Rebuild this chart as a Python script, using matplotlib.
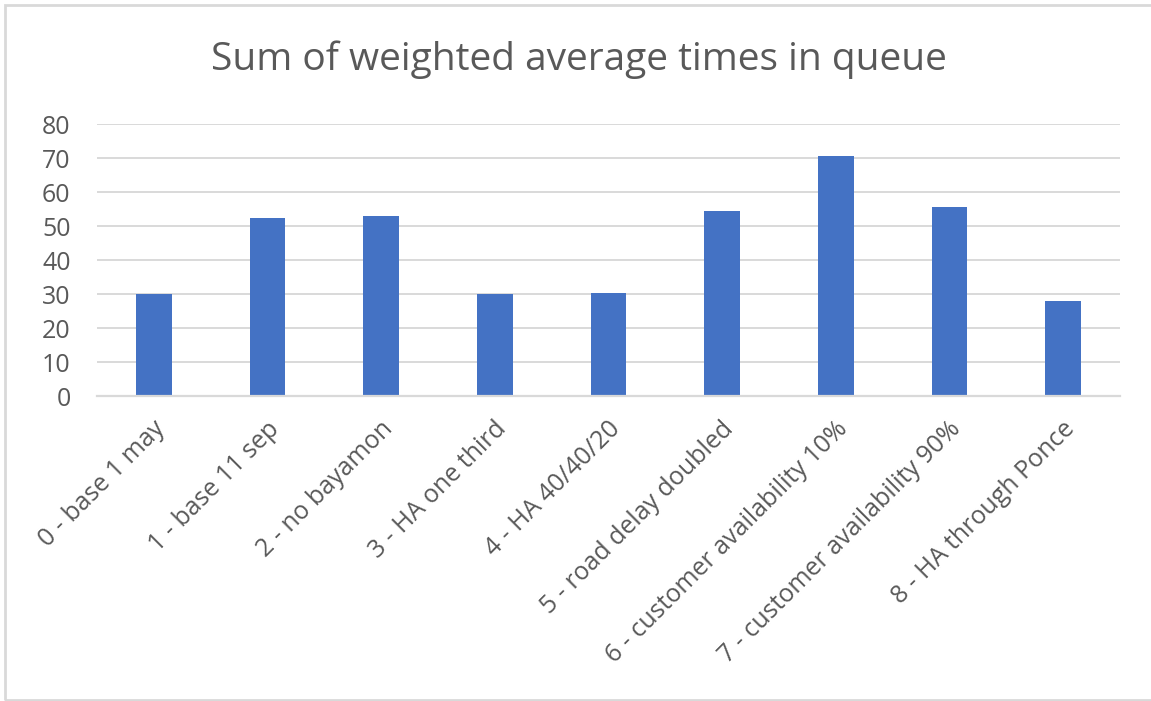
import matplotlib.pyplot as plt
import matplotlib.transforms as mtransforms
from matplotlib.patches import Rectangle

plt.rcParams['font.family'] = ['Open Sans', 'DejaVu Sans']

# scenario names and summed weighted average times in queue
scenarios = [
    '0 - base 1 may',
    '1 - base 11 sep',
    '2 - no bayamon',
    '3 - HA one third',
    '4 - HA 40/40/20',
    '5 - road delay doubled',
    '6 - customer availability 10%',
    '7 - customer availability 90%',
    '8 - HA through Ponce',
]
queue_times = [29.9, 52.4, 52.8, 29.9, 30.3, 54.3, 70.6, 55.6, 28.0]
y_ticks = [0, 10, 20, 30, 40, 50, 60, 70, 80]

text_grey = '#595959'
grid_grey = '#D9D9D9'

fig = plt.figure(figsize=(11.51, 7.01), dpi=100)
ax = fig.add_axes([97 / 1151, 1 - 396 / 701, (1120 - 97) / 1151, (396 - 124) / 701])

x = list(range(len(scenarios)))
ax.bar(x, queue_times, width=0.313, color='#4472C4', zorder=3)

ax.set_xlim(-0.5, len(scenarios) - 0.5)
ax.set_ylim(0, 80)
ax.set_yticks(y_ticks)
ax.set_yticklabels([str(v) for v in y_ticks], fontsize=18, color=text_grey)
ax.yaxis.grid(True, color=grid_grey, linewidth=1.4, zorder=0)
ax.tick_params(axis='y', length=0, pad=19)
ax.tick_params(axis='x', length=0, pad=21)

ax.set_xticks(x)
ax.set_xticklabels(scenarios, rotation=45, ha='right', va='center',
                   rotation_mode='anchor', fontsize=18, color=text_grey)
offset = mtransforms.ScaledTranslation(8 / 100, 0, fig.dpi_scale_trans)
for lbl in ax.get_xticklabels():
    lbl.set_transform(lbl.get_transform() + offset)

for side in ['top', 'right', 'left']:
    ax.spines[side].set_visible(False)
ax.spines['bottom'].set_color(grid_grey)
ax.spines['bottom'].set_linewidth(1.6)
ax.spines['bottom'].set_zorder(4)

fig.text(579 / 1151, 1 - 60 / 701, 'Sum of weighted average times in queue',
         ha='center', va='center', fontsize=28, color=text_grey)

# light chart-area border
fig.patches.append(Rectangle((5 / 1151, 1 / 701), 1.2, 1 - 6 / 701,
                             transform=fig.transFigure, fill=False,
                             edgecolor=grid_grey, linewidth=2))

fig.savefig('out.png', dpi=100)
